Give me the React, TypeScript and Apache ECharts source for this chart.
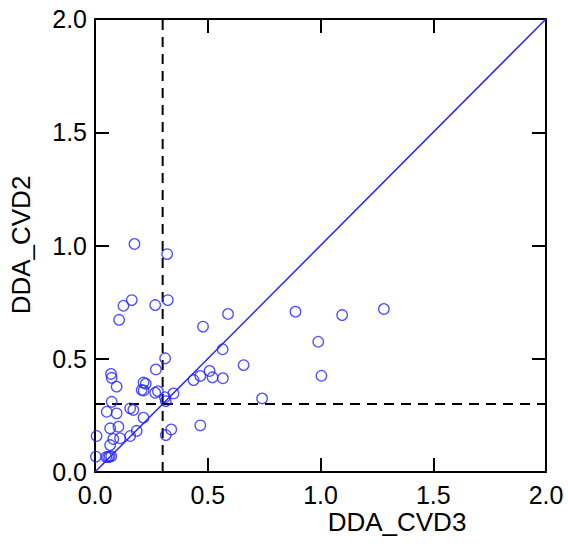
import React, { useEffect, useRef } from "react";
import * as echarts from "echarts";

const xValues = [
  0.175, 0.32, 0.163, 0.126, 0.107, 0.267, 0.323, 0.311, 0.071, 0.074,
  0.096, 0.27, 0.215, 0.225, 0.207, 0.216, 0.267, 0.279, 0.314, 0.31,
  0.348, 0.074, 0.052, 0.096, 0.156, 0.17, 0.215, 0.067, 0.104, 0.007,
  0.081, 0.111, 0.156, 0.185, 0.314, 0.338, 0.067, 0.004, 0.05, 0.058,
  0.065, 0.072, 0.437, 0.566, 0.659, 0.467, 0.508, 0.521, 0.567, 0.741,
  0.467, 0.479, 0.59, 0.889, 1.096, 1.281, 0.99, 1.004,
];
const yValues = [
  1.007, 0.962, 0.759, 0.734, 0.672, 0.737, 0.759, 0.502, 0.433, 0.416,
  0.377, 0.453, 0.395, 0.39, 0.362, 0.36, 0.35, 0.357, 0.313, 0.33,
  0.347, 0.31, 0.266, 0.259, 0.281, 0.274, 0.24, 0.193, 0.2, 0.159,
  0.146, 0.149, 0.159, 0.182, 0.163, 0.188, 0.119, 0.068, 0.066, 0.066,
  0.068, 0.07, 0.406, 0.542, 0.472, 0.424, 0.446, 0.418, 0.414, 0.325,
  0.206, 0.642, 0.698, 0.708, 0.693, 0.72, 0.575, 0.425,
];
const axisTicks = [0, 0.5, 1.0, 1.5, 2.0];
const thresholdX = 0.3;
const thresholdY = 0.3;
const xName = "DDA_CVD3";
const yName = "DDA_CVD2";

const FONT = "Liberation Sans, Arial, Helvetica, sans-serif";
const BLUE = "#2424ff";

export default function App() {
  const ref = useRef<HTMLDivElement>(null);
  useEffect(() => {
    if (!ref.current) return;
    const chart = echarts.init(ref.current, null, { renderer: "svg" });
    const minV = axisTicks[0];
    const maxV = axisTicks[axisTicks.length - 1];
    const baseAxis = {
      min: minV,
      max: maxV,
      interval: 0.5,
      splitLine: { show: false },
      axisLine: { show: true, onZero: false, lineStyle: { color: "#000", width: 2 } },
      axisTick: { show: true, inside: true, length: 14, lineStyle: { color: "#000", width: 2 } },
    };
    const labelStyle = {
      color: "#000",
      fontSize: 25,
      fontFamily: FONT,
      formatter: (v: number) => v.toFixed(1),
    };
    const points = xValues.map((x, i) => [x, yValues[i]]);
    chart.setOption({
      animation: false,
      backgroundColor: "#fff",
      grid: { left: 95, top: 19, width: 451, height: 453 },
      xAxis: [
        { ...baseAxis, type: "value", position: "bottom", axisLabel: { ...labelStyle, margin: 10 } },
        { ...baseAxis, type: "value", position: "top", axisLabel: { show: false } },
      ],
      yAxis: [
        { ...baseAxis, type: "value", position: "left", axisLabel: { ...labelStyle, margin: 8 } },
        { ...baseAxis, type: "value", position: "right", axisLabel: { show: false } },
      ],
      graphic: [
        {
          type: "text",
          x: 397,
          y: 522,
          style: {
            text: xName,
            fontSize: 26,
            fontFamily: FONT,
            fill: "#000",
            textAlign: "center",
            textVerticalAlign: "middle",
          },
        },
        {
          type: "text",
          x: 21,
          y: 245,
          rotation: Math.PI / 2,
          style: {
            text: yName,
            fontSize: 26,
            fontFamily: FONT,
            fill: "#000",
            textAlign: "center",
            textVerticalAlign: "middle",
          },
        },
      ],
      series: [
        {
          type: "line",
          data: [[minV, minV], [maxV, maxV]],
          symbol: "none",
          lineStyle: { color: BLUE, width: 1.5 },
          z: 2,
        },
        {
          type: "line",
          data: [[thresholdX, minV], [thresholdX, maxV]],
          symbol: "none",
          lineStyle: { color: "#000", width: 2, type: [10, 7] },
          z: 2,
        },
        {
          type: "line",
          data: [[minV, thresholdY], [maxV, thresholdY]],
          symbol: "none",
          lineStyle: { color: "#000", width: 2, type: [10, 7] },
          z: 2,
        },
        {
          type: "scatter",
          data: points,
          symbol: "circle",
          symbolSize: 10.5,
          itemStyle: { color: "rgba(0,0,0,0)", borderColor: BLUE, borderWidth: 1.3 },
          z: 3,
        },
      ],
    });
    return () => chart.dispose();
  }, []);
  return (
    <div
      ref={ref}
      style={{ position: "fixed", left: 0, top: 0, width: 568, height: 546 }}
    />
  );
}
